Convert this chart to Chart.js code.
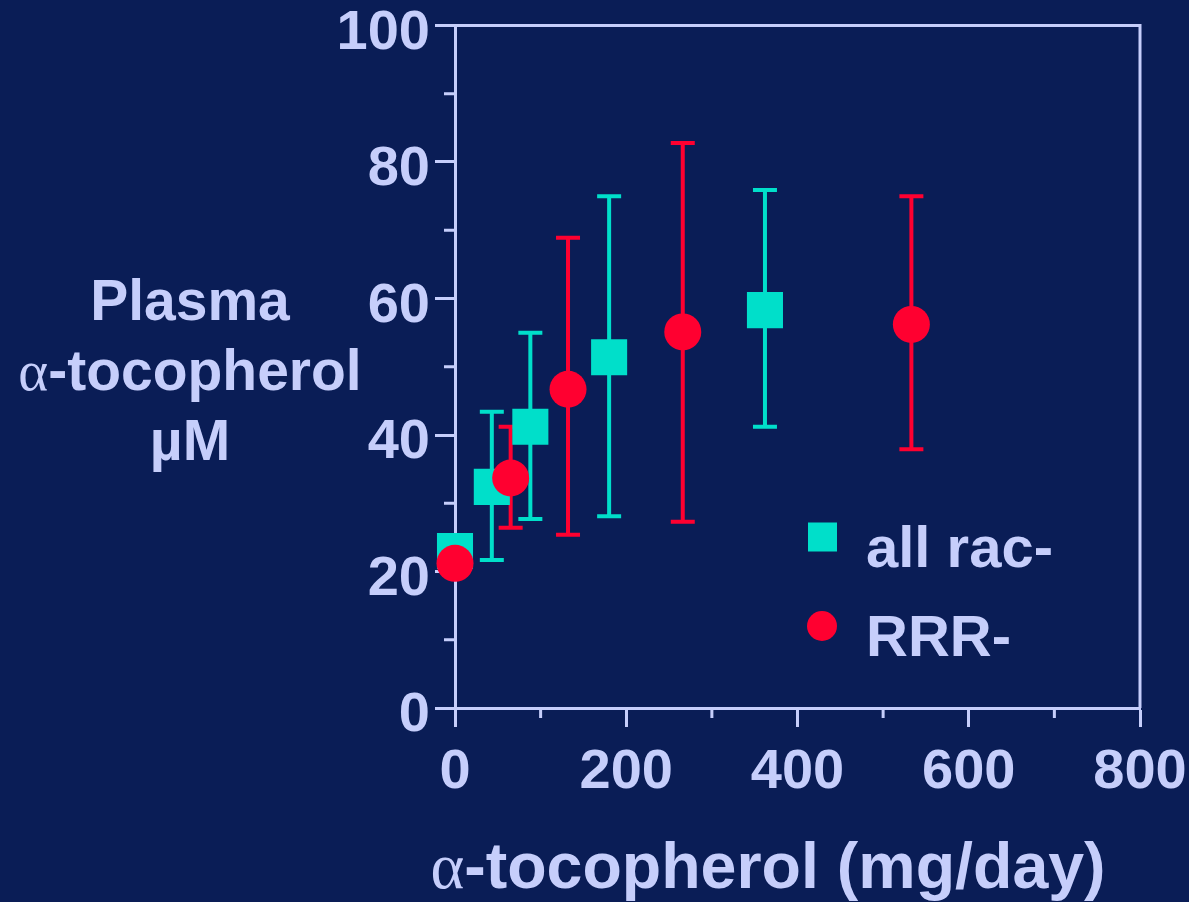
<!DOCTYPE html>
<html><head><meta charset="utf-8">
<script src="https://cdn.jsdelivr.net/npm/chart.js@4.4.0/dist/chart.umd.min.js"></script>
<style>html,body{margin:0;padding:0;background:#0a1d56;overflow:hidden}</style>
</head><body>
<canvas id="c" width="1189" height="902" style="width:1189px;height:902px;display:block"></canvas>
<script>
// ---- data ----
const seriesNames = ['all rac-', 'RRR-'];
const racDose = [0, 43, 88, 180, 362];
const racMean = [23.0, 32.4, 41.2, 51.4, 58.3];
const racLow  = [null, 21.7, 27.7, 28.1, 41.2];
const racHigh = [null, 43.4, 55.0, 75.0, 75.9];
const rrrDose = [0, 65, 132, 266, 533];
const rrrMean = [21.2, 33.7, 46.7, 55.1, 56.2];
const rrrLow  = [null, 26.4, 25.4, 27.3, 37.9];
const rrrHigh = [null, 41.2, 68.9, 82.8, 75.0];
const xTickValues = [0, 200, 400, 600, 800];
const yTickValues = [0, 20, 40, 60, 80, 100];
const xMinorTicks = [100, 300, 500, 700];
const yMinorTicks = [10, 30, 50, 70, 90];
const yTitleLines = [['Plasma'], ['\u03B1', '-tocopherol'], ['\u00B5M']];
const xTitleParts = ['\u03B1', '-tocopherol (mg/day)'];

// ---- style ----
const BG = '#0a1d56';
const FG = '#c6cefb';
const CYAN = '#00dfca';
const RED = '#ff0030';
const SANS = "'Liberation Sans', Arial, sans-serif";
const SERIF = "'Liberation Serif', 'Times New Roman', serif";

const toPts = (xs, ys) => xs.map((x, i) => ({x: x, y: ys[i]}));

const bgPlugin = {
  id: 'bg',
  beforeDraw(chart) {
    const ctx = chart.ctx;
    ctx.save(); ctx.fillStyle = BG; ctx.fillRect(0, 0, chart.width, chart.height); ctx.restore();
  }
};

const errorBarPlugin = {
  id: 'errbars',
  beforeDatasetsDraw(chart) {
    const ctx = chart.ctx, xs = chart.scales.x, ys = chart.scales.y;
    chart.data.datasets.forEach(ds => {
      ctx.save();
      ctx.strokeStyle = ds.backgroundColor; ctx.lineWidth = 4; ctx.lineCap = 'butt';
      ds.data.forEach((p, i) => {
        if (ds.lows[i] == null) return;
        const x = xs.getPixelForValue(p.x);
        const y1 = ys.getPixelForValue(ds.lows[i]);
        const y2 = ys.getPixelForValue(ds.highs[i]);
        ctx.beginPath();
        ctx.moveTo(x, y1); ctx.lineTo(x, y2);
        ctx.moveTo(x - 12, y1); ctx.lineTo(x + 12, y1);
        ctx.moveTo(x - 12, y2); ctx.lineTo(x + 12, y2);
        ctx.stroke();
      });
      ctx.restore();
    });
  }
};

function drawMixed(ctx, parts, fonts, cx, baseline) {
  let total = 0; const widths = [];
  parts.forEach((t, i) => { ctx.font = fonts[i]; const w = ctx.measureText(t).width; widths.push(w); total += w; });
  let x = cx - total / 2;
  parts.forEach((t, i) => { ctx.font = fonts[i]; ctx.fillText(t, x, baseline); x += widths[i]; });
}

const framePlugin = {
  id: 'frame',
  afterDraw(chart) {
    const ctx = chart.ctx, a = chart.chartArea, xs = chart.scales.x, ys = chart.scales.y;
    ctx.save();
    ctx.strokeStyle = FG; ctx.lineWidth = 3;
    ctx.beginPath();
    ctx.moveTo(a.left - 20, a.top); ctx.lineTo(a.right, a.top); ctx.lineTo(a.right, a.bottom);
    ctx.stroke();
    // minor ticks
    ctx.beginPath();
    yMinorTicks.forEach(v => { const y = ys.getPixelForValue(v); ctx.moveTo(a.left - 11, y); ctx.lineTo(a.left, y); });
    xMinorTicks.forEach(v => { const x = xs.getPixelForValue(v); ctx.moveTo(x, a.bottom); ctx.lineTo(x, a.bottom + 10); });
    ctx.stroke();

    // axis titles
    ctx.fillStyle = FG; ctx.textAlign = 'left'; ctx.textBaseline = 'alphabetic';
    const ySize = 57;
    const yBases = [320, 390, 460];
    yTitleLines.forEach((parts, i) => {
      const fonts = parts.map(p => p === '\u03B1' ? `${ySize}px ${SERIF}` : `bold ${ySize}px ${SANS}`);
      drawMixed(ctx, parts, fonts, 190, yBases[i]);
    });
    const xSize = 64.5;
    drawMixed(ctx, xTitleParts, [`${xSize}px ${SERIF}`, `bold ${xSize}px ${SANS}`], 768, 888);

    // legend
    const ds = chart.data.datasets;
    const legendY = [537, 626];
    ctx.font = `bold 58px ${SANS}`;
    ds.forEach((d, i) => {
      ctx.fillStyle = d.backgroundColor;
      if (d.pointStyle === 'rect') ctx.fillRect(808, legendY[i] - 14.5, 29, 29);
      else { ctx.beginPath(); ctx.arc(822, legendY[i], 15, 0, Math.PI * 2); ctx.fill(); }
      ctx.fillStyle = FG;
      ctx.fillText(d.label, 866, legendY[i] + 30);
    });
    ctx.restore();
  }
};

const zeroPad = s => { s.paddingTop = 0; s.paddingBottom = 0; s.paddingLeft = 0; s.paddingRight = 0; };

new Chart(document.getElementById('c'), {
  type: 'scatter',
  data: {
    datasets: [
      { label: seriesNames[0], data: toPts(racDose, racMean), lows: racLow, highs: racHigh, clip: false,
        backgroundColor: CYAN, borderColor: CYAN, borderWidth: 0, pointStyle: 'rect', pointRadius: 25.5, pointHoverRadius: 25.5, order: 2 },
      { label: seriesNames[1], data: toPts(rrrDose, rrrMean), lows: rrrLow, highs: rrrHigh, clip: false,
        backgroundColor: RED, borderColor: RED, borderWidth: 0, pointStyle: 'circle', pointRadius: 18.5, pointHoverRadius: 18.5, order: 1 }
    ]
  },
  options: {
    responsive: false, animation: false, devicePixelRatio: 1,
    layout: { padding: { top: 22, right: 49, bottom: 0, left: 0 } },
    plugins: { legend: { display: false }, tooltip: { enabled: false } },
    events: [],
    scales: {
      x: {
        type: 'linear', min: 0, max: 800,
        afterBuildTicks: s => { s.ticks = xTickValues.map(v => ({ value: v })); },
        afterFit: s => { s.height = 194; zeroPad(s); },
        grid: { drawOnChartArea: false, drawTicks: true, tickLength: 19, tickWidth: 3, tickColor: FG, color: FG },
        border: { display: true, color: FG, width: 3 },
        ticks: { color: FG, padding: 12, maxRotation: 0, autoSkip: false,
          font: { family: SANS, weight: 'bold', size: 56 } }
      },
      y: {
        type: 'linear', min: 0, max: 100,
        afterBuildTicks: s => { s.ticks = yTickValues.map(v => ({ value: v })); },
        afterFit: s => { s.width = 455; zeroPad(s); },
        grid: { drawOnChartArea: false, drawTicks: true, tickLength: 20, tickWidth: 3, tickColor: FG, color: FG },
        border: { display: true, color: FG, width: 3 },
        ticks: { color: FG, padding: 5, labelOffset: 8, autoSkip: false,
          font: { family: SANS, weight: 'bold', size: 56 } }
      }
    }
  },
  plugins: [bgPlugin, errorBarPlugin, framePlugin]
});
</script>
</body></html>
